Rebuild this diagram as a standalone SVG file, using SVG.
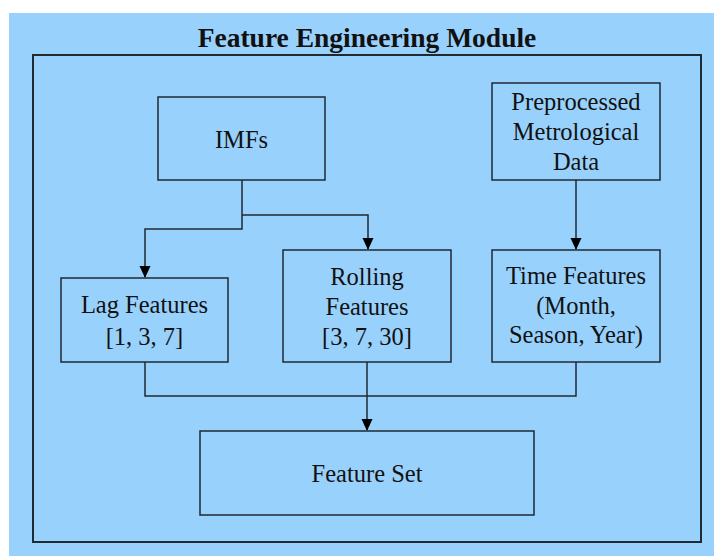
<svg xmlns="http://www.w3.org/2000/svg" width="714" height="556" viewBox="0 0 714 556">
  <defs>
    <marker id="arrow" viewBox="0 0 12 12" refX="11" refY="6" markerWidth="12" markerHeight="12" markerUnits="userSpaceOnUse" orient="auto">
      <path d="M0,0.5 L12,6 L0,11.5 z" fill="#000"/>
    </marker>
    <style>
      .box { fill: none; stroke: #1f2a33; stroke-width: 1.5; }
      .frame { fill: none; stroke: #1f2a33; stroke-width: 2; }
      text { font-family: 'Liberation Serif', 'Times New Roman', Tinos, 'DejaVu Serif', serif; fill: #111; text-anchor: middle; }
      .lbl { font-size: 24.5px; }
      .title { font-size: 27.5px; font-weight: bold; }
      .wire { fill: none; stroke: #1f2a33; stroke-width: 1.5; }
    </style>
  </defs>

  <rect x="0" y="0" width="714" height="556" fill="#ffffff"/>
  <rect x="9" y="13" width="705" height="543" fill="#99d1fd"/>

  <g id="module">
    <text class="title" x="367" y="47">Feature Engineering Module</text>
    <rect class="frame" x="33" y="55" width="668" height="487"/>
  </g>

  <g id="connectors">
    <path class="wire" d="M242,180 V229 H145 V277" marker-end="url(#arrow)"/>
    <path class="wire" d="M242,215 H368 V249" marker-end="url(#arrow)"/>
    <path class="wire" d="M576,180 V249" marker-end="url(#arrow)"/>
    <path class="wire" d="M145,362 V396 H576 V362"/>
    <path class="wire" d="M367,362 V430" marker-end="url(#arrow)"/>
  </g>

  <g id="imfs">
    <rect class="box" x="158" y="97" width="167" height="83"/>
    <text class="lbl" x="241.5" y="148">IMFs</text>
  </g>

  <g id="preprocessed">
    <rect class="box" x="492" y="83" width="168" height="97"/>
    <text class="lbl" x="576" y="110">Preprocessed</text>
    <text class="lbl" x="576" y="140">Metrological</text>
    <text class="lbl" x="576" y="170">Data</text>
  </g>

  <g id="lag">
    <rect class="box" x="61" y="278" width="167" height="84"/>
    <text class="lbl" x="144.5" y="313">Lag Features</text>
    <text class="lbl" x="144.5" y="345">[1, 3, 7]</text>
  </g>

  <g id="rolling">
    <rect class="box" x="283" y="250" width="168" height="112"/>
    <text class="lbl" x="367" y="285">Rolling</text>
    <text class="lbl" x="367" y="315">Features</text>
    <text class="lbl" x="367" y="345">[3, 7, 30]</text>
  </g>

  <g id="time">
    <rect class="box" x="492" y="250" width="168" height="112"/>
    <text class="lbl" x="576" y="284">Time Features</text>
    <text class="lbl" x="576" y="314">(Month,</text>
    <text class="lbl" x="576" y="343">Season, Year)</text>
  </g>

  <g id="feature-set">
    <rect class="box" x="200" y="431" width="334" height="84"/>
    <text class="lbl" x="367" y="482">Feature Set</text>
  </g>
</svg>
